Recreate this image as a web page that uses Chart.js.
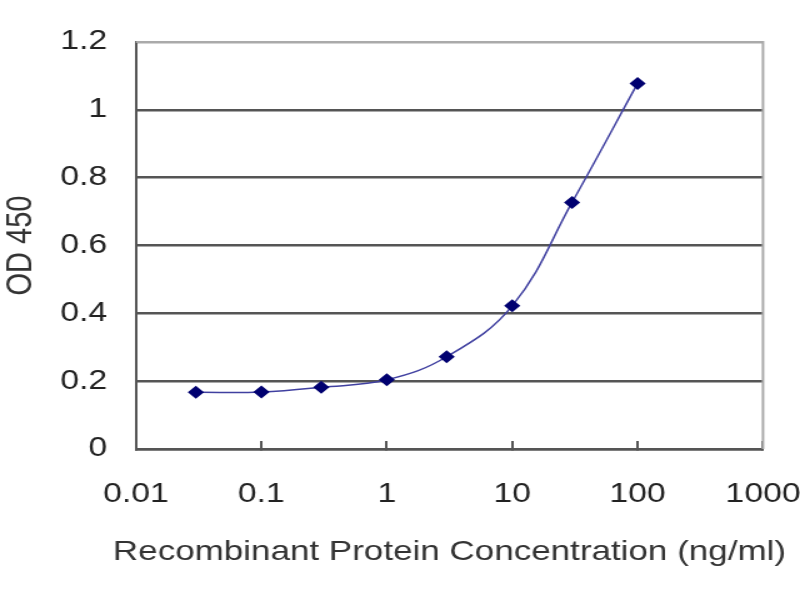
<!DOCTYPE html>
<html>
<head>
<meta charset="utf-8">
<script src="https://cdn.jsdelivr.net/npm/chart.js@4"></script>
<style>
  html, body { margin: 0; padding: 0; background: #fff; overflow: hidden; }
  /* The reference image is stretched sideways, so draw narrow and widen. */
  #wrap { width: 640px; height: 600px; transform: scaleX(1.25); transform-origin: 0 0; }
</style>
</head>
<body>
<div id="wrap"><canvas id="odChart" width="640" height="600"></canvas></div>
<script>
'use strict';

// Chart data.
const concentrations = [0.03, 0.1, 0.3, 1, 3, 10, 30, 100];
const odValues = [0.167, 0.168, 0.182, 0.204, 0.272, 0.422, 0.727, 1.078];
const xTickValues = [0.01, 0.1, 1, 10, 100, 1000];
const xTickLabels = ['0.01', '0.1', '1', '10', '100', '1000'];
const yTickValues = [0, 0.2, 0.4, 0.6, 0.8, 1, 1.2];
const yTickLabels = ['0', '0.2', '0.4', '0.6', '0.8', '1', '1.2'];
const xAxisTitle = 'Recombinant Protein Concentration (ng/ml)';

const points = concentrations.map((c, i) => ({ x: c, y: odValues[i] }));
const fontFamily = 'Liberation Sans, Arial, sans-serif';

// Light grey frame on the top and right of the plot area, plus the x title.
// The x title is wider than the axis, so the scale title would squeeze it.
const plotFrame = {
  id: 'plotFrame',
  beforeDatasetsDraw(chart) {
    const { ctx, chartArea } = chart;
    ctx.save();
    ctx.strokeStyle = '#aaaaaa';
    ctx.lineWidth = 2;
    ctx.beginPath();
    ctx.moveTo(chartArea.left, chartArea.top);
    ctx.lineTo(chartArea.right, chartArea.top);
    ctx.lineTo(chartArea.right, chartArea.bottom);
    ctx.stroke();
    ctx.restore();
  },
  afterDraw(chart) {
    const { ctx, chartArea } = chart;
    ctx.save();
    ctx.font = '28px ' + fontFamily;
    ctx.fillStyle = '#333';
    ctx.textAlign = 'center';
    ctx.textBaseline = 'alphabetic';
    ctx.fillText(xAxisTitle, (chartArea.left + chartArea.right) / 2, 560);
    ctx.restore();
  }
};

const config = {
  type: 'line',
  data: {
    datasets: [{
      data: points,
      borderColor: '#4040a0',
      borderWidth: 1.5,
      backgroundColor: '#000070',
      pointStyle: 'rectRot',
      pointRadius: 6.5,
      pointBorderWidth: 0,
      tension: 0.4,
      fill: false,
    }]
  },
  options: {
    responsive: false,
    animation: false,
    layout: { padding: { top: 42, right: 29.6, left: 0, bottom: 0 } },
    plugins: {
      legend: { display: false },
      tooltip: { enabled: false },
    },
    scales: {
      x: {
        type: 'logarithmic',
        min: 0.01,
        max: 1000,
        afterBuildTicks: axis => { axis.ticks = xTickValues.map(v => ({ value: v })); },
        afterFit: axis => {
          axis.height = 151;
          axis.paddingLeft = 0;
          axis.paddingRight = 0;
        },
        border: { color: '#555', width: 2.5 },
        grid: { drawOnChartArea: false, drawTicks: true, tickLength: -8, color: '#555', lineWidth: 2 },
        ticks: {
          autoSkip: false,
          maxRotation: 0,
          padding: 37,
          color: '#222',
          font: { family: fontFamily, size: 27 },
          callback: (value, index) => xTickLabels[index],
        },
      },
      y: {
        min: 0,
        max: 1.2,
        afterBuildTicks: axis => { axis.ticks = yTickValues.map(v => ({ value: v })); },
        afterFit: axis => { axis.width = 108.8; },
        border: { color: '#555', width: 2 },
        grid: {
          color: ctx => (ctx.index === yTickValues.length - 1 ? '#aaaaaa' : '#555'),
          lineWidth: 2.5,
          drawTicks: false,
        },
        ticks: {
          padding: 23,
          color: '#222',
          font: { family: fontFamily, size: 27 },
          callback: (value, index) => yTickLabels[index],
        },
        title: {
          display: true,
          text: 'OD 450',
          color: '#333',
          padding: 0,
          font: { family: fontFamily, size: 29 },
        },
      },
    },
  },
  plugins: [plotFrame],
};

const odChart = new Chart(document.getElementById('odChart'), config);
</script>
</body>
</html>
